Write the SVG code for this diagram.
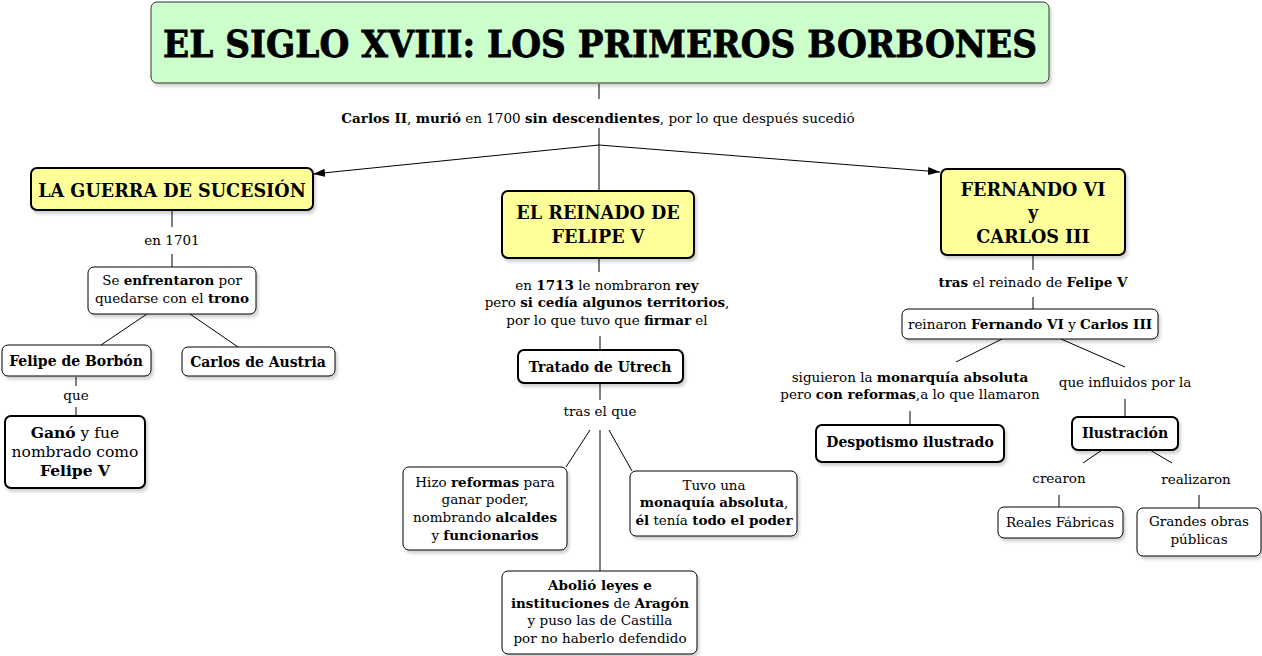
<svg xmlns="http://www.w3.org/2000/svg" width="1262" height="656" viewBox="0 0 1262 656">
<style>
text{font-family:"DejaVu Serif","Liberation Serif",serif;fill:#000;text-anchor:middle}
.t{font-size:13.5px}
.g{font-size:15.5px}
.b{font-weight:bold}
.h{font-size:17.6px;font-weight:bold}
.n{font-size:14px;font-weight:bold}
.box{fill:#fff;stroke:#000;stroke-width:1}
.box2{fill:#fff;stroke:#000;stroke-width:2}
.yel{fill:#ffff99;stroke:#000;stroke-width:2}
.grn{fill:#ccffcc;stroke:#333;stroke-width:1}
.c{stroke:#000;stroke-width:1;fill:none}
</style>
<defs>
<filter id="sh" x="-10%" y="-10%" width="130%" height="140%">
<feDropShadow dx="2" dy="3" stdDeviation="1.5" flood-color="#000" flood-opacity="0.18"/>
</filter>
<marker id="ar" viewBox="0 0 12 8" refX="12" refY="4" markerWidth="12" markerHeight="8" markerUnits="userSpaceOnUse" orient="auto">
<path d="M0,0 L12,4 L0,8 z" fill="#000"/>
</marker>
</defs>

<g id="connectors">
<line class="c" x1="599" y1="84" x2="599" y2="99"/>
<line class="c" x1="599" y1="128" x2="599" y2="145"/>
<line class="c" x1="599" y1="145" x2="313" y2="174" marker-end="url(#ar)"/>
<line class="c" x1="599" y1="145" x2="599" y2="191"/>
<line class="c" x1="599" y1="145" x2="940" y2="172" marker-end="url(#ar)"/>
<line class="c" x1="172" y1="211" x2="172" y2="227"/>
<line class="c" x1="172" y1="254" x2="172" y2="267"/>
<line class="c" x1="147" y1="314" x2="101" y2="345"/>
<line class="c" x1="190" y1="314" x2="238" y2="347"/>
<line class="c" x1="76" y1="377" x2="76" y2="386"/>
<line class="c" x1="76" y1="407" x2="76" y2="416"/>
<line class="c" x1="599" y1="259" x2="599" y2="272"/>
<line class="c" x1="600" y1="336" x2="600" y2="350"/>
<line class="c" x1="600" y1="384" x2="600" y2="400"/>
<line class="c" x1="590" y1="430" x2="566" y2="467"/>
<line class="c" x1="600" y1="430" x2="600" y2="571"/>
<line class="c" x1="609" y1="430" x2="632" y2="471"/>
<line class="c" x1="1033" y1="256" x2="1033" y2="270"/>
<line class="c" x1="1033" y1="297" x2="1033" y2="309"/>
<line class="c" x1="1002" y1="339" x2="956" y2="362"/>
<line class="c" x1="1061" y1="339" x2="1125" y2="367"/>
<line class="c" x1="910" y1="411" x2="910" y2="425"/>
<line class="c" x1="1125" y1="399" x2="1125" y2="417"/>
<line class="c" x1="1102" y1="450" x2="1083" y2="463"/>
<line class="c" x1="1150" y1="450" x2="1172" y2="463"/>
<line class="c" x1="1059" y1="495" x2="1059" y2="507"/>
<line class="c" x1="1199" y1="495" x2="1199" y2="508"/>
</g>

<g id="title">
<rect class="grn" x="151" y="2" width="898" height="81" rx="6" filter="url(#sh)"/>
<text x="600" y="57" font-size="37" font-weight="bold" stroke="#000" stroke-width="0.8" textLength="874" lengthAdjust="spacingAndGlyphs">EL SIGLO XVIII: LOS PRIMEROS BORBONES</text>
</g>

<g id="lbl-carlos2">
<text class="t" x="598" y="123"><tspan class="b">Carlos II</tspan>, <tspan class="b">murió</tspan> en 1700 <tspan class="b">sin descendientes</tspan>, por lo que después sucedió</text>
</g>

<g id="guerra">
<rect class="yel" x="31" y="168" width="282" height="42" rx="6" filter="url(#sh)"/>
<text class="h" x="172" y="197">LA GUERRA DE SUCESIÓN</text>
</g>
<g id="lbl-1701"><text class="t" x="172" y="245">en 1701</text></g>
<g id="enfrentaron">
<rect class="box" x="88" y="267" width="168" height="47" rx="6" filter="url(#sh)"/>
<text class="t" x="172" y="285">Se <tspan class="b">enfrentaron</tspan> por</text>
<text class="t" x="172" y="303">quedarse con el <tspan class="b">trono</tspan></text>
</g>
<g id="felipe-borbon">
<rect class="box" x="2" y="345" width="149" height="31" rx="6" filter="url(#sh)"/>
<text class="n" x="76" y="366">Felipe de Borbón</text>
</g>
<g id="carlos-austria">
<rect class="box" x="182" y="347" width="153" height="29" rx="6" filter="url(#sh)"/>
<text class="n" x="258" y="367">Carlos de Austria</text>
</g>
<g id="lbl-que"><text class="t" x="76" y="400">que</text></g>
<g id="gano">
<rect class="box2" x="5" y="416" width="140" height="72" rx="6" filter="url(#sh)"/>
<text class="g" x="75" y="438"><tspan class="b">Ganó</tspan> y fue</text>
<text class="g" x="75" y="457">nombrado como</text>
<text class="g" x="75" y="476"><tspan class="b">Felipe V</tspan></text>
</g>

<g id="reinado">
<rect class="yel" x="502" y="191" width="192" height="67" rx="6" filter="url(#sh)"/>
<text class="h" x="598" y="219">EL REINADO DE</text>
<text class="h" x="598" y="243">FELIPE V</text>
</g>
<g id="lbl-1713">
<text class="t" x="607" y="290">en <tspan class="b">1713</tspan> le nombraron <tspan class="b">rey</tspan></text>
<text class="t" x="607" y="307">pero <tspan class="b">si cedía algunos territorios</tspan>,</text>
<text class="t" x="607" y="325">por lo que tuvo que <tspan class="b">firmar</tspan> el</text>
</g>
<g id="utrech">
<rect class="box2" x="518" y="350" width="165" height="33" rx="6" filter="url(#sh)"/>
<text class="n" x="600" y="372">Tratado de Utrech</text>
</g>
<g id="lbl-tras"><text class="t" x="600" y="416">tras el que</text></g>
<g id="reformas">
<rect class="box" x="403" y="467" width="164" height="83" rx="6" filter="url(#sh)"/>
<text class="t" x="485" y="487">Hizo <tspan class="b">reformas</tspan> para</text>
<text class="t" x="485" y="504">ganar poder,</text>
<text class="t" x="485" y="522">nombrando <tspan class="b">alcaldes</tspan></text>
<text class="t" x="485" y="540">y <tspan class="b">funcionarios</tspan></text>
</g>
<g id="absoluta">
<rect class="box" x="630" y="471" width="167" height="65" rx="6" filter="url(#sh)"/>
<text class="t" x="714" y="490">Tuvo una</text>
<text class="t" x="714" y="507"><tspan class="b">monaquía absoluta</tspan>,</text>
<text class="t" x="714" y="525"><tspan class="b">él</tspan> tenía <tspan class="b">todo el poder</tspan></text>
</g>
<g id="abolio">
<rect class="box" x="502" y="571" width="195" height="83" rx="6" filter="url(#sh)"/>
<text class="t" x="600" y="590"><tspan class="b">Abolió leyes e</tspan></text>
<text class="t" x="600" y="608"><tspan class="b">instituciones</tspan> de <tspan class="b">Aragón</tspan></text>
<text class="t" x="600" y="625">y puso las de Castilla</text>
<text class="t" x="600" y="643">por no haberlo defendido</text>
</g>

<g id="fernando">
<rect class="yel" x="941" y="169" width="184" height="86" rx="6" filter="url(#sh)"/>
<text class="h" x="1033" y="196">FERNANDO VI</text>
<text class="h" x="1033" y="219">y</text>
<text class="h" x="1033" y="243">CARLOS III</text>
</g>
<g id="lbl-tras-reinado"><text class="t" x="1033" y="287"><tspan class="b">tras</tspan> el reinado de <tspan class="b">Felipe V</tspan></text></g>
<g id="reinaron">
<rect class="box" x="902" y="309" width="256" height="30" rx="6" filter="url(#sh)"/>
<text class="t" x="1030" y="329">reinaron <tspan class="b">Fernando VI</tspan> y <tspan class="b">Carlos III</tspan></text>
</g>
<g id="lbl-siguieron">
<text class="t" x="910" y="382">siguieron la <tspan class="b">monarquía absoluta</tspan></text>
<text class="t" x="910" y="399">pero <tspan class="b">con reformas</tspan>,a lo que llamaron</text>
</g>
<g id="despotismo">
<rect class="box2" x="816" y="425" width="188" height="37" rx="6" filter="url(#sh)"/>
<text class="n" x="910" y="447">Despotismo ilustrado</text>
</g>
<g id="lbl-influidos"><text class="t" x="1125" y="387">que influidos por la</text></g>
<g id="ilustracion">
<rect class="box2" x="1072" y="417" width="106" height="33" rx="6" filter="url(#sh)"/>
<text class="n" x="1125" y="438">Ilustración</text>
</g>
<g id="lbl-crearon"><text class="t" x="1059" y="483">crearon</text></g>
<g id="lbl-realizaron"><text class="t" x="1196" y="484">realizaron</text></g>
<g id="fabricas">
<rect class="box" x="998" y="507" width="125" height="31" rx="6" filter="url(#sh)"/>
<text class="t" x="1060" y="527">Reales Fábricas</text>
</g>
<g id="obras">
<rect class="box" x="1137" y="508" width="124" height="48" rx="6" filter="url(#sh)"/>
<text class="t" x="1199" y="526">Grandes obras</text>
<text class="t" x="1199" y="544">públicas</text>
</g>
</svg>
